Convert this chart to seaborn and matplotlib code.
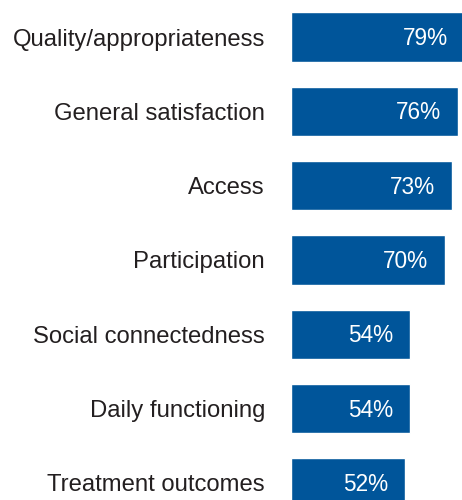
import matplotlib
matplotlib.use("Agg")
import matplotlib.pyplot as plt
import seaborn as sns
import pandas as pd

categories = ["Quality/appropriateness", "General satisfaction", "Access",
              "Participation", "Social connectedness", "Daily functioning",
              "Treatment outcomes"]
values = [79, 76, 73, 70, 54, 54, 52]

df = pd.DataFrame({"category": categories, "value": values})

sns.set_theme(style="white")
plt.rcParams["font.family"] = ["Liberation Sans", "DejaVu Sans"]

fig = plt.figure(figsize=(4.62, 5.0), dpi=100)
ax = fig.add_axes([291/462, 0, 171/462, 1])

color = "#00559A"
sns.barplot(data=df, x="value", y="category", orient="h", color=color,
            saturation=1, width=0.664, ax=ax)

ax.set_xlim(0, 171/2.2)
ax.set_ylim((500-37)/74.33, -37/74.33)
ax.set_xlabel("")
ax.set_ylabel("")
ax.set_xticks([])
for s in ax.spines.values():
    s.set_visible(False)
ax.tick_params(axis="y", length=0, pad=18.7, labelsize=17.2, labelcolor="#231f20")

for i, v in enumerate(values):
    ax.annotate(f"{v}%", xy=(v, i), xytext=(-12.2, -1.2), textcoords="offset points",
                ha="right", va="center", color="white", fontsize=16.3,
                annotation_clip=False)

fig.savefig("out.png", dpi=100)
